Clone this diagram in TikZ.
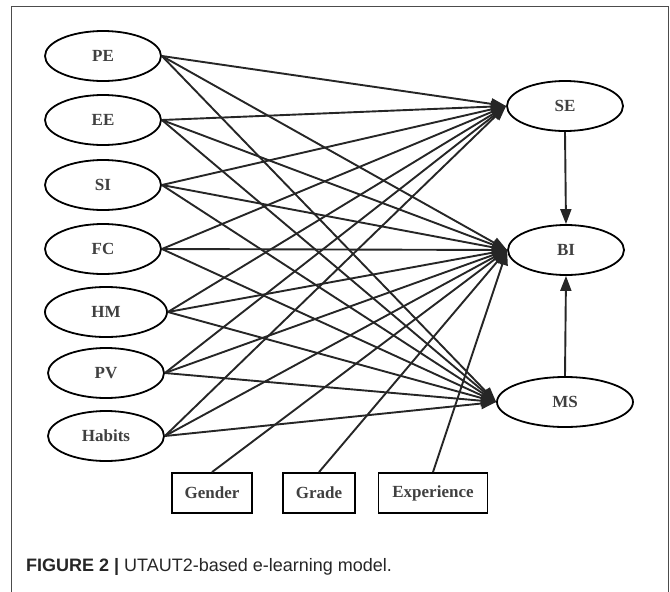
\documentclass[tikz,border=0pt]{standalone}
\usepackage{fontspec}
\setmainfont{Liberation Serif}
\newfontfamily\capfont{Liberation Sans}
\usetikzlibrary{arrows.meta,shapes.geometric}
\begin{document}
\begin{tikzpicture}[x=1pt,y=-1pt,
  ell/.style={draw, line width=1.8pt, ellipse, minimum width=116pt, minimum height=50pt, inner sep=0pt, font=\fontsize{17}{19}\selectfont\bfseries, text=black!75},
  box/.style={draw, line width=1.8pt, rectangle, minimum height=40pt, inner sep=0pt, font=\fontsize{17}{19}\selectfont\bfseries, text=black!75},
  conn/.style={line width=1.9pt, draw=black!85, -{Triangle[length=15pt,width=11pt]}}]
\useasboundingbox (0,0) rectangle (670,592);
\draw[line width=1pt, black!70] (11,592) -- (11,6) -- (668,6) -- (668,592);
% left nodes
\node[ell] (PE) at (103,56) {PE};
\node[ell] (EE) at (103,120) {EE};
\node[ell] (SI) at (103,185) {SI};
\node[ell] (FC) at (103,249) {FC};
\node[ell, minimum width=122pt] (HM) at (106,312) {HM};
\node[ell] (PV) at (106,373) {PV};
\node[ell] (HB) at (106,436) {Habits};
% right nodes
\node[ell] (SE) at (565,106) {SE};
\node[ell] (BI) at (566,250) {BI};
\node[ell, minimum width=136pt] (MS) at (565,402) {MS};
% moderators
\node[box, minimum width=80pt] (G) at (212,493) {Gender};
\node[box, minimum width=72pt] (GR) at (319,493) {Grade};
\node[box, minimum width=109pt] (EX) at (433,493) {Experience};
% connectors
\foreach \s in {PE,EE,SI,FC,HM,PV,HB}{
  \draw[conn] (\s.east) -- (SE.west);
  \draw[conn] (\s.east) -- (BI.west);
  \draw[conn] (\s.east) -- (MS.west);
}
\draw[conn] (G.north) -- (BI.west);
\draw[conn] (GR.north) -- (BI.west);
\draw[conn] (EX.north) -- (BI.west);
\draw[conn] (SE.south) -- (BI.north);
\draw[conn] (MS.north) -- (BI.south);
% caption
\node[anchor=west, inner sep=0pt, font=\capfont\fontsize{18}{20}\selectfont, text=black!85] (cap) at (26,567) {\textbf{FIGURE 2 |} UTAUT2-based e-learning model.};
\end{tikzpicture}
\end{document}
